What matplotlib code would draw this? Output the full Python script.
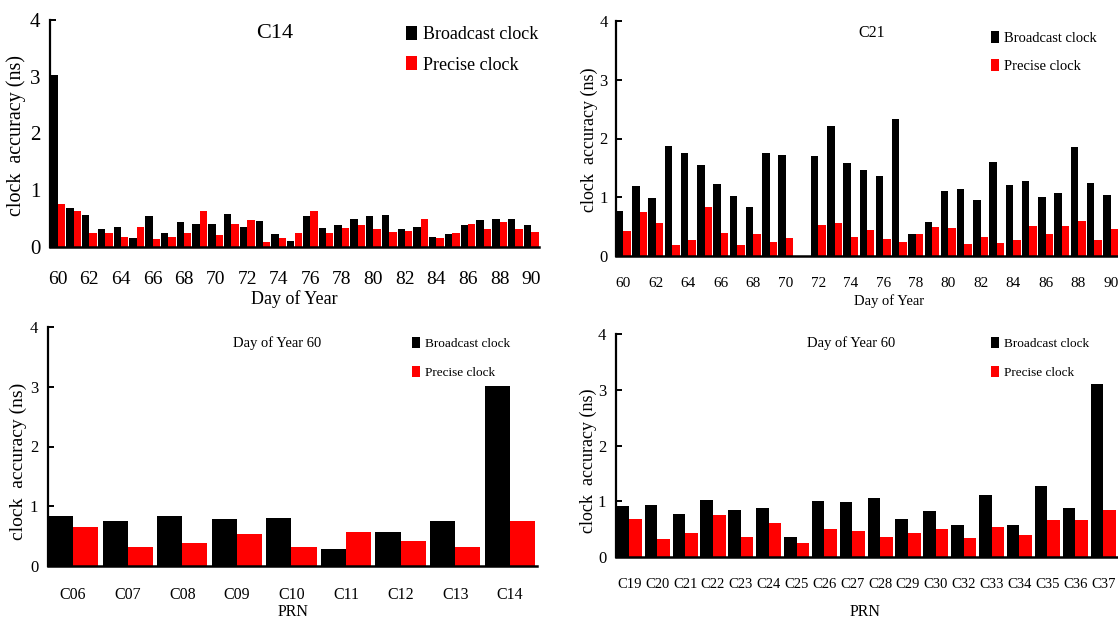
import numpy as np
import matplotlib
matplotlib.use("Agg")
import matplotlib.pyplot as plt

plt.rcParams['font.family'] = ['Liberation Serif', 'DejaVu Serif']

W, H = 1118, 623

# ---- data ----
days = list(range(60, 91))

c14_broadcast = [3.03, 0.69, 0.56, 0.32, 0.35, 0.16, 0.55, 0.25, 0.44, 0.41,
                 0.41, 0.59, 0.36, 0.46, 0.23, 0.11, 0.54, 0.34, 0.39, 0.50,
                 0.55, 0.56, 0.32, 0.36, 0.17, 0.23, 0.38, 0.48, 0.50, 0.50, 0.39]
c14_precise = [0.75, 0.64, 0.25, 0.24, 0.18, 0.36, 0.14, 0.18, 0.24, 0.64,
               0.21, 0.41, 0.48, 0.09, 0.16, 0.24, 0.63, 0.25, 0.33, 0.38,
               0.31, 0.26, 0.29, 0.50, 0.16, 0.25, 0.40, 0.31, 0.44, 0.32, 0.26]

c21_broadcast = [0.77, 1.20, 0.99, 1.87, 1.75, 1.55, 1.22, 1.02, 0.84, 1.75,
                 1.72, 0.0, 1.71, 2.21, 1.59, 1.46, 1.37, 2.33, 0.38, 0.58,
                 1.10, 1.14, 0.96, 1.60, 1.21, 1.27, 1.01, 1.08, 1.85, 1.25, 1.04]
c21_precise = [0.42, 0.75, 0.57, 0.19, 0.28, 0.84, 0.40, 0.18, 0.37, 0.23,
               0.30, 0.0, 0.52, 0.56, 0.32, 0.45, 0.29, 0.23, 0.37, 0.50,
               0.48, 0.20, 0.32, 0.22, 0.28, 0.51, 0.37, 0.51, 0.59, 0.28, 0.46]

meo_prn = ['C06', 'C07', 'C08', 'C09', 'C10', 'C11', 'C12', 'C13', 'C14']
meo_broadcast = [0.83, 0.75, 0.83, 0.79, 0.81, 0.28, 0.57, 0.75, 3.01]
meo_precise = [0.66, 0.31, 0.38, 0.53, 0.32, 0.57, 0.42, 0.31, 0.76]

bds3_prn = ['C19', 'C20', 'C21', 'C22', 'C23', 'C24', 'C25', 'C26', 'C27',
            'C28', 'C29', 'C30', 'C32', 'C33', 'C34', 'C35', 'C36', 'C37']
bds3_broadcast = [0.92, 0.93, 0.78, 1.03, 0.84, 0.88, 0.35, 1.01, 0.99,
                  1.06, 0.69, 0.82, 0.57, 1.11, 0.57, 1.27, 0.87, 3.10]
bds3_precise = [0.68, 0.33, 0.43, 0.75, 0.35, 0.61, 0.26, 0.50, 0.47,
                0.35, 0.43, 0.50, 0.34, 0.54, 0.39, 0.66, 0.66, 0.84]


def px(x, y):
    return x / W, 1 - y / H


def box(l, t, r, b):
    return [l / W, 1 - b / H, (r - l) / W, (b - t) / H]


def setup(ax, ytick_size, xtick_size, xpad, ypad):
    ax.set_ylim(0, 4)
    ax.set_yticks([0, 1, 2, 3, 4])
    for s in ['top', 'right']:
        ax.spines[s].set_visible(False)
    ax.spines['left'].set_linewidth(1.6)
    ax.spines['bottom'].set_linewidth(1.8)
    ax.tick_params(axis='y', direction='in', length=4, width=1.4,
                   labelsize=ytick_size, pad=ypad)
    ax.tick_params(axis='x', length=0, labelsize=xtick_size, pad=xpad)


def grouped(ax, x, b, p, w):
    x = np.asarray(x, dtype=float)
    ax.bar(x - w / 2, b, width=w, color='black', label='Broadcast clock')
    ax.bar(x + w / 2, p, width=w, color='#ff0000', label='Precise clock')


def legend(ax, x, y, size, spacing, hl, hh):
    ax.legend(loc='upper left', bbox_to_anchor=px(x, y),
              bbox_transform=fig.transFigure, frameon=False, fontsize=size,
              borderpad=0, borderaxespad=0, handlelength=hl, handleheight=hh,
              handletextpad=0.35, labelspacing=spacing)


fig = plt.figure(figsize=(W / 100, H / 100), dpi=100)

# top-left: C14
ax1 = fig.add_axes(box(50, 20, 539, 247))
grouped(ax1, days, c14_broadcast, c14_precise, 0.47)
ax1.set_xlim(59.5, 90.5)
ax1.set_xticks(days[::2])
setup(ax1, 15, 14, 17, 7)
legend(ax1, 406, 26, 13, 0.7, 0.6, 0.85)
fig.text(*px(275, 33), 'C14', fontsize=16, ha='center', va='center')
fig.text(*px(294, 299), 'Day of Year', fontsize=13, ha='center', va='center')
fig.text(*px(16, 135), 'clock  accuracy (ns)', fontsize=14.5, rotation=90,
         ha='center', va='center')

# top-right: C21
ax2 = fig.add_axes(box(616, 21, 1118, 256))
grouped(ax2, days, c21_broadcast, c21_precise, 0.46)
ax2.set_xlim(59.55, 90.45)
ax2.set_xticks(days[::2])
setup(ax2, 12, 11, 15, 6)
legend(ax2, 991, 31, 10.5, 1.0, 0.55, 0.85)
fig.text(*px(872, 33), 'C21', fontsize=11.5, ha='center', va='center')
fig.text(*px(889, 301), 'Day of Year', fontsize=10.5, ha='center', va='center')
fig.text(*px(589, 140), 'clock  accuracy (ns)', fontsize=13, rotation=90,
         ha='center', va='center')

# bottom-left: MEO/IGSO, DOY 60
ax3 = fig.add_axes(box(48, 327, 537, 566))
x3 = np.arange(len(meo_prn))
grouped(ax3, x3, meo_broadcast, meo_precise, 0.46)
ax3.set_xlim(-0.46, 8.5)
ax3.set_xticks(x3)
ax3.set_xticklabels(meo_prn)
setup(ax3, 12, 11.5, 15, 7)
legend(ax3, 412, 337, 9.5, 1.2, 0.6, 0.95)
fig.text(*px(277, 343), 'Day of Year 60', fontsize=10.5, ha='center', va='center')
fig.text(*px(293, 612), 'PRN', fontsize=11.5, ha='center', va='center')
fig.text(*px(18, 461), 'clock  accuracy (ns)', fontsize=14, rotation=90,
         ha='center', va='center')

# bottom-right: BDS-3, DOY 60
ax4 = fig.add_axes(box(616, 334, 1117, 557))
x4 = np.arange(len(bds3_prn))
grouped(ax4, x4, bds3_broadcast, bds3_precise, 0.45)
ax4.set_xlim(-0.48, 17.5)
ax4.set_xticks(x4)
ax4.set_xticklabels(bds3_prn)
setup(ax4, 12, 10.5, 15, 7)
legend(ax4, 991, 337, 9.5, 1.2, 0.6, 0.95)
fig.text(*px(851, 343), 'Day of Year 60', fontsize=10.5, ha='center', va='center')
fig.text(*px(865, 612), 'PRN', fontsize=11.5, ha='center', va='center')
fig.text(*px(588, 461), 'clock  accuracy (ns)', fontsize=13, rotation=90,
         ha='center', va='center')

fig.savefig('out.png', dpi=100)
